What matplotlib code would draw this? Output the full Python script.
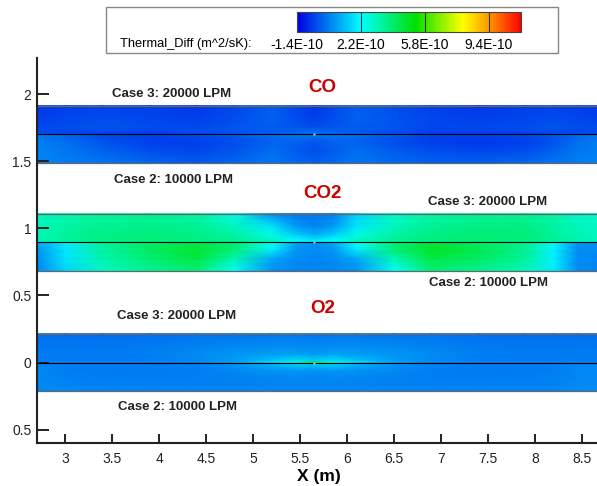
import numpy as np
import matplotlib
matplotlib.use("Agg")
import matplotlib.pyplot as plt
from matplotlib.colors import LinearSegmentedColormap, Normalize
from matplotlib.patches import Rectangle

plt.rcParams["font.family"] = ["Liberation Sans", "DejaVu Sans"]

x_nodes = [2.7, 3.0, 3.4, 3.9, 4.4, 4.8, 5.2, 5.45, 5.65, 5.85, 6.1, 6.5, 6.9, 7.4, 7.9, 8.2, 8.45, 8.7]
# distance from the band centreline (m), rows go centreline -> outer wall
y_offsets = [0.0, 0.02, 0.06, 0.12, 0.215]

co_centre, co2_centre, o2_centre = 1.70, 0.895, 0.0

# Thermal_Diff in units of 1E-10 m^2/s
co_case3 = [  # upper half of CO band
    [-0.3, -0.4, -0.5, -0.5, -0.4, -0.2, 0.0, 0.2, 0.5, 0.2, 0.0, -0.3, -0.5, -0.6, -0.5, -0.4, -0.3, -0.3],
    [-0.3, -0.4, -0.4, -0.5, -0.3, -0.2, -0.1, 0.0, 0.1, 0.0, -0.1, -0.3, -0.5, -0.5, -0.4, -0.3, -0.4, -0.3],
    [-0.4, -0.3, -0.2, -0.3, -0.4, -0.2, -0.1, -0.2, -0.3, -0.2, -0.1, -0.2, -0.4, -0.4, -0.3, -0.2, -0.3, -0.3],
    [-0.5, -0.4, -0.3, -0.4, -0.5, -0.3, 0.0, -0.3, -0.5, -0.3, 0.0, -0.2, -0.4, -0.5, -0.4, -0.3, -0.4, -0.5],
    [-0.6, -0.5, -0.5, -0.5, -0.6, -0.4, -0.1, -0.4, -0.6, -0.4, -0.1, -0.3, -0.5, -0.6, -0.5, -0.5, -0.5, -0.6],
]
co_case2 = [  # lower half of CO band
    [0.3, 0.0, -0.3, -0.4, -0.2, 0.0, 0.2, 0.3, 0.5, 0.3, 0.2, 0.0, -0.3, -0.4, -0.3, -0.1, 0.1, 0.3],
    [0.4, 0.1, -0.3, -0.5, -0.4, -0.2, 0.1, 0.2, 0.1, 0.2, 0.1, -0.2, -0.5, -0.5, -0.4, -0.2, 0.1, 0.3],
    [0.4, 0.2, -0.2, -0.5, -0.5, -0.3, 0.0, 0.0, -0.2, 0.0, 0.0, -0.3, -0.5, -0.6, -0.5, -0.2, 0.2, 0.4],
    [0.5, 0.3, 0.0, -0.3, -0.4, -0.2, 0.2, -0.1, -0.3, -0.1, 0.2, -0.1, -0.3, -0.4, -0.3, 0.0, 0.3, 0.4],
    [0.5, 0.4, 0.3, 0.1, -0.1, 0.1, 0.3, 0.1, 0.0, 0.1, 0.3, 0.1, 0.0, 0.0, 0.1, 0.3, 0.4, 0.5],
]
co2_case3 = [
    [3.1, 3.4, 3.7, 3.8, 3.7, 3.6, 3.1, 2.5, 2.3, 2.5, 3.1, 3.5, 3.8, 3.9, 3.8, 3.5, 3.2, 3.0],
    [3.1, 3.4, 3.7, 3.8, 3.7, 3.5, 2.9, 2.1, 1.8, 2.1, 2.9, 3.5, 3.8, 3.9, 3.8, 3.5, 3.2, 3.0],
    [3.1, 3.4, 3.7, 3.8, 3.7, 3.3, 2.5, 1.5, 1.1, 1.5, 2.5, 3.3, 3.7, 3.9, 3.8, 3.4, 3.1, 2.9],
    [3.0, 3.3, 3.5, 3.6, 3.5, 3.0, 1.8, 0.8, 0.5, 0.8, 1.8, 3.0, 3.5, 3.7, 3.7, 3.3, 3.0, 2.9],
    [2.9, 3.2, 3.4, 3.5, 3.3, 2.5, 0.6, 0.3, 0.3, 0.4, 1.6, 2.9, 3.3, 3.5, 3.5, 3.3, 2.9, 2.8],
]
co2_case2 = [
    [1.0, 2.0, 3.4, 4.0, 4.3, 3.8, 2.4, 1.0, 0.6, 1.0, 2.3, 3.8, 4.5, 4.1, 3.5, 2.1, 0.8, 0.6],
    [0.9, 1.9, 3.4, 4.1, 4.5, 3.9, 2.3, 0.9, 0.6, 0.9, 2.2, 3.9, 4.7, 4.2, 3.5, 2.1, 0.7, 0.6],
    [0.7, 1.8, 3.3, 4.1, 4.7, 3.8, 1.9, 0.7, 0.6, 0.7, 1.8, 3.8, 4.8, 4.3, 3.5, 2.0, 0.6, 0.6],
    [0.6, 1.8, 3.2, 3.9, 4.5, 3.2, 1.0, 0.6, 0.5, 0.6, 1.0, 3.1, 4.5, 4.1, 3.4, 2.0, 0.6, 0.5],
    [0.5, 1.6, 2.9, 3.5, 3.8, 2.2, 0.6, 0.5, 0.5, 0.5, 0.6, 2.2, 3.8, 3.5, 3.0, 1.9, 0.6, 0.5],
]
o2_case3 = [
    [0.35, 0.35, 0.35, 0.4, 0.55, 0.9, 1.9, 3.0, 4.5, 3.0, 1.9, 0.9, 0.55, 0.4, 0.35, 0.35, 0.35, 0.35],
    [0.35, 0.35, 0.35, 0.4, 0.55, 0.8, 1.3, 1.7, 1.5, 1.7, 1.3, 0.8, 0.55, 0.4, 0.35, 0.35, 0.35, 0.35],
    [0.35, 0.35, 0.35, 0.4, 0.6, 0.75, 0.9, 0.95, 0.85, 0.95, 0.9, 0.75, 0.6, 0.4, 0.35, 0.35, 0.35, 0.35],
    [0.3, 0.3, 0.3, 0.35, 0.45, 0.55, 0.6, 0.6, 0.55, 0.6, 0.6, 0.55, 0.45, 0.35, 0.3, 0.3, 0.3, 0.3],
    [0.15, 0.15, 0.15, 0.2, 0.25, 0.25, 0.3, 0.3, 0.25, 0.3, 0.3, 0.25, 0.25, 0.2, 0.15, 0.15, 0.15, 0.15],
]
o2_case2 = [
    [0.45, 0.4, 0.35, 0.35, 0.45, 0.75, 1.5, 2.6, 4.2, 2.6, 1.5, 0.75, 0.45, 0.35, 0.35, 0.4, 0.45, 0.45],
    [0.5, 0.4, 0.35, 0.35, 0.45, 0.65, 1.1, 1.5, 1.4, 1.5, 1.1, 0.65, 0.45, 0.35, 0.35, 0.4, 0.5, 0.5],
    [0.55, 0.4, 0.35, 0.35, 0.4, 0.55, 0.7, 0.75, 0.7, 0.75, 0.7, 0.55, 0.4, 0.35, 0.35, 0.4, 0.55, 0.55],
    [0.55, 0.45, 0.4, 0.4, 0.4, 0.45, 0.5, 0.5, 0.5, 0.5, 0.5, 0.45, 0.4, 0.4, 0.4, 0.45, 0.55, 0.55],
    [0.6, 0.55, 0.5, 0.5, 0.5, 0.5, 0.5, 0.5, 0.5, 0.5, 0.5, 0.5, 0.5, 0.5, 0.5, 0.5, 0.6, 0.6],
]

level_ticks = [-1.4, 2.2, 5.8, 9.4]
level_labels = ["-1.4E-10", "2.2E-10", "5.8E-10", "9.4E-10"]
x_ticks = [3, 3.5, 4, 4.5, 5, 5.5, 6, 6.5, 7, 7.5, 8, 8.5]
y_ticks = [-0.5, 0, 0.5, 1, 1.5, 2]
y_ticklabels = ["0.5", "0", "0.5", "1", "1.5", "2"]

cmap = LinearSegmentedColormap.from_list("tecplot", [
    (0.0, (0.0, 0.0, 0.9)),
    (0.2857, (0.0, 1.0, 1.0)),
    (0.53, (0.0, 0.88, 0.0)),
    (0.74, (1.0, 1.0, 0.0)),
    (0.857, (1.0, 0.6, 0.0)),
    (1.0, (1.0, 0.0, 0.0)),
])
norm = Normalize(-1.4, 11.2)

fig = plt.figure(figsize=(5.97, 4.86), dpi=100)
ax = fig.add_axes([37 / 597, 43 / 486, 560 / 597, 385 / 486])


def draw_half(values, centre, sign):
    X, Y = np.meshgrid(x_nodes, centre + sign * np.array(y_offsets))
    return ax.pcolormesh(X, Y, np.array(values), shading="gouraud", cmap=cmap, norm=norm)


mesh = draw_half(co_case3, co_centre, 1)
draw_half(co_case2, co_centre, -1)
draw_half(co2_case3, co2_centre, 1)
draw_half(co2_case2, co2_centre, -1)
draw_half(o2_case3, o2_centre, 1)
draw_half(o2_case2, o2_centre, -1)

for c in [co_centre, co2_centre, o2_centre]:
    half = y_offsets[-1]
    ax.hlines([c - half, c + half], x_nodes[0], x_nodes[-1], color="#666666", lw=0.9)
    ax.hlines(c, x_nodes[0], x_nodes[-1], color="black", lw=0.8)
    ax.plot(5.65, c, "s", ms=2.0, color="#cfcfcf", mec="none")

ax.set_xlim(2.7, 8.66)
ax.set_ylim(-0.6, 2.27)

# species titles and case labels
for name, yy in [("CO", 2.05), ("CO2", 1.26), ("O2", 0.40)]:
    ax.text(5.74, yy, name, color="#cc0000", fontsize=13.5, fontweight="bold", ha="center", va="center")
label_kw = dict(fontsize=9.5, fontweight="bold", color="#222222", va="center", ha="left")
ax.text(3.50, 2.005, "Case 3: 20000 LPM", **label_kw)
ax.text(3.52, 1.36, "Case 2: 10000 LPM", **label_kw)
ax.text(6.86, 1.196, "Case 3: 20000 LPM", **label_kw)
ax.text(6.87, 0.59, "Case 2: 10000 LPM", **label_kw)
ax.text(3.55, 0.345, "Case 3: 20000 LPM", **label_kw)
ax.text(3.56, -0.33, "Case 2: 10000 LPM", **label_kw)

ax.set_xticks(x_ticks)
ax.set_xticklabels([f"{v:g}" for v in x_ticks])
ax.set_yticks(y_ticks)
ax.set_yticklabels(y_ticklabels)
ax.tick_params(axis="x", direction="in", length=6.5, width=1.4, pad=6.5, labelsize=10, colors="#222222")
ax.tick_params(axis="y", direction="in", length=8.4, width=1.4, pad=4, labelsize=10, colors="#222222")
for s in ["top", "right"]:
    ax.spines[s].set_visible(False)
for s in ["left", "bottom"]:
    ax.spines[s].set_linewidth(1.5)
    ax.spines[s].set_color("#222222")
ax.set_xlabel("X (m)", fontsize=12.5, fontweight="bold")
ax.xaxis.set_label_coords(0.504, -0.088)
ax.xaxis.label.set_va("center")

# legend box with the colour bar
fig.patches.append(Rectangle((106 / 597, 1 - 53 / 486), 452 / 597, 46 / 486, transform=fig.transFigure,
                             facecolor="white", edgecolor="#888888", lw=1.0, zorder=-1))
fig.text(120 / 597, 1 - 44 / 486, "Thermal_Diff (m^2/sK):", fontsize=9.3, va="center", ha="left")
cax = fig.add_axes([297 / 597, 1 - 32.3 / 486, 224 / 597, 20 / 486])
cb = fig.colorbar(mesh, cax=cax, orientation="horizontal")
cb.set_ticks(level_ticks)
cb.set_ticklabels(level_labels)
cax.tick_params(length=0, pad=4, labelsize=10)
cb.outline.set_edgecolor("#444444")
cb.outline.set_linewidth(0.8)
for t in level_ticks[1:]:
    cax.axvline(t, color="#333333", lw=0.8)

fig.savefig("out.png", dpi=100)
